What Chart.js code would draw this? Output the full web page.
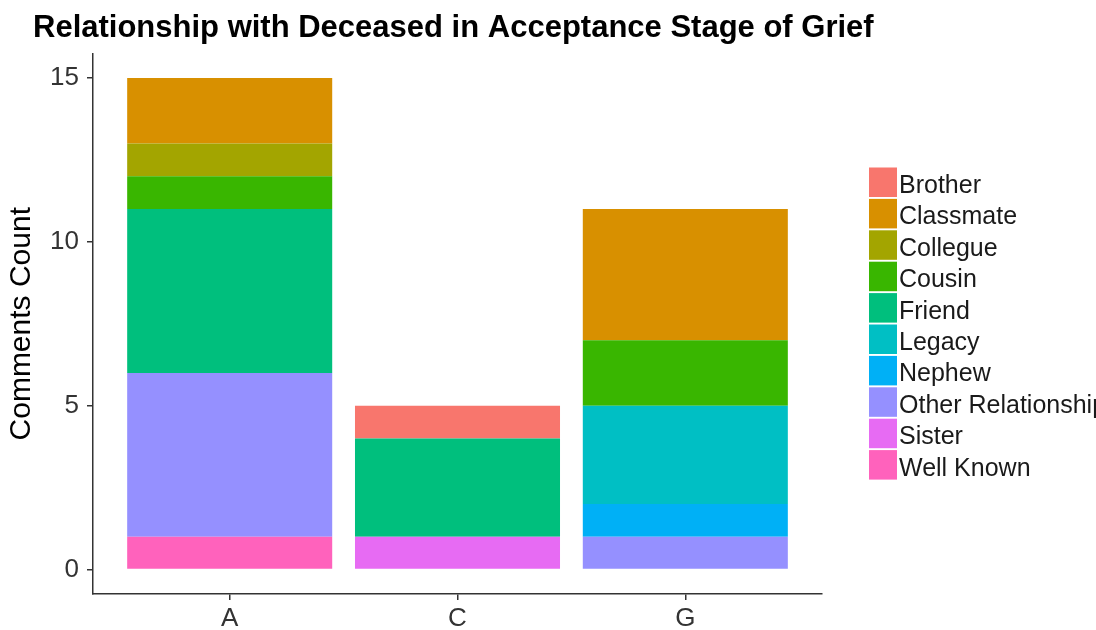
<!DOCTYPE html>
<html>
<head>
<meta charset="utf-8">
<script src="https://cdn.jsdelivr.net/npm/chart.js@4"></script>
<style>
  html, body { margin: 0; padding: 0; background: #fff; overflow: hidden; }
  #wrap { width: 1096px; height: 630px; position: relative; }
</style>
</head>
<body>
<div id="wrap"><canvas id="grief-chart" width="1096" height="630"></canvas></div>
<script>
const FONT = "'Liberation Sans', Arial, sans-serif";

// data
const groups = ["A", "C", "G"];
const relations = ["Brother", "Classmate", "Collegue", "Cousin", "Friend", "Legacy", "Nephew", "Other Relationship", "Sister", "Well Known"];
const colors = ["#F8766D", "#D89000", "#A3A500", "#39B600", "#00BF7D", "#00BFC4", "#00B0F6", "#9590FF", "#E76BF3", "#FF62BC"];
const brother = [0, 1, 0];
const classmate = [2, 0, 4];
const collegue = [1, 0, 0];
const cousin = [1, 0, 2];
const friend = [5, 3, 0];
const legacy = [0, 0, 3];
const nephew = [0, 0, 1];
const otherRel = [5, 0, 1];
const sister = [0, 1, 0];
const wellKnown = [1, 0, 0];
const yTicks = [0, 5, 10, 15];

const seriesValues = [brother, classmate, collegue, cousin, friend, legacy, nephew, otherRel, sister, wellKnown];

// stacked bottom-up: last legend entry sits at the bottom
const datasets = [];
for (let i = relations.length - 1; i >= 0; i--) {
    datasets.push({
        label: relations[i],
        data: seriesValues[i].map((v, j) => ({ x: j + 1, y: v })),
        backgroundColor: colors[i],
        borderWidth: 0,
    });
}

const titleAndLegend = {
    id: "titleAndLegend",
    afterDraw(chart) {
        const c = chart.ctx;
        c.save();
        c.fillStyle = "#000";
        c.font = "bold 31px " + FONT;
        c.textBaseline = "alphabetic";
        c.textAlign = "left";
        c.fillText("Relationship with Deceased in Acceptance Stage of Grief", 33, 37);

        c.font = "25px " + FONT;
        for (let i = 0; i < relations.length; i++) {
            const top = 167.5 + i * 31.4;
            c.fillStyle = colors[i];
            c.fillRect(869, top, 28, 29.5);
            c.fillStyle = "#1a1a1a";
            c.fillText(relations[i], 899, top + 25.5);
        }
        c.restore();
    },
};

new Chart(document.querySelector("#grief-chart"), {
    type: "bar",
    data: { datasets: datasets },
    options: {
        responsive: false,
        animation: false,
        layout: { padding: { top: 53.5, right: 274, left: 0, bottom: 0 } },
        categoryPercentage: 0.9,
        barPercentage: 1,
        plugins: {
            legend: { display: false },
            title: { display: false },
            tooltip: { enabled: false },
        },
        scales: {
            x: {
                type: "linear",
                stacked: true,
                offset: false,
                min: 0.4,
                max: 3.6,
                afterBuildTicks: (s) => { s.ticks = groups.map((g, i) => ({ value: i + 1 })); },
                afterFit: (s) => { s.height = 36; },
                grid: { display: true, offset: false, drawOnChartArea: false, drawTicks: true, tickLength: 6, color: "#333", lineWidth: 1.5 },
                border: { display: true, color: "#333", width: 1.5 },
                ticks: {
                    autoSkip: false,
                    maxRotation: 0,
                    padding: 3,
                    color: "#333",
                    font: { family: FONT, size: 26 },
                    callback: (v) => groups[v - 1],
                },
            },
            y: {
                stacked: true,
                min: -0.75,
                max: 15.75,
                afterBuildTicks: (s) => { s.ticks = yTicks.map((v) => ({ value: v })); },
                afterFit: (s) => { s.width = 93; },
                grid: { display: true, drawOnChartArea: false, drawTicks: true, tickLength: 6, color: "#333", lineWidth: 1.5 },
                border: { display: true, color: "#333", width: 1.5 },
                ticks: {
                    padding: 8,
                    color: "#333",
                    font: { family: FONT, size: 26 },
                },
                title: {
                    display: true,
                    text: "Comments Count",
                    color: "#000",
                    font: { family: FONT, size: 30 },
                    padding: { top: 4, bottom: 0 },
                },
            },
        },
    },
    plugins: [titleAndLegend],
});
</script>
</body>
</html>
